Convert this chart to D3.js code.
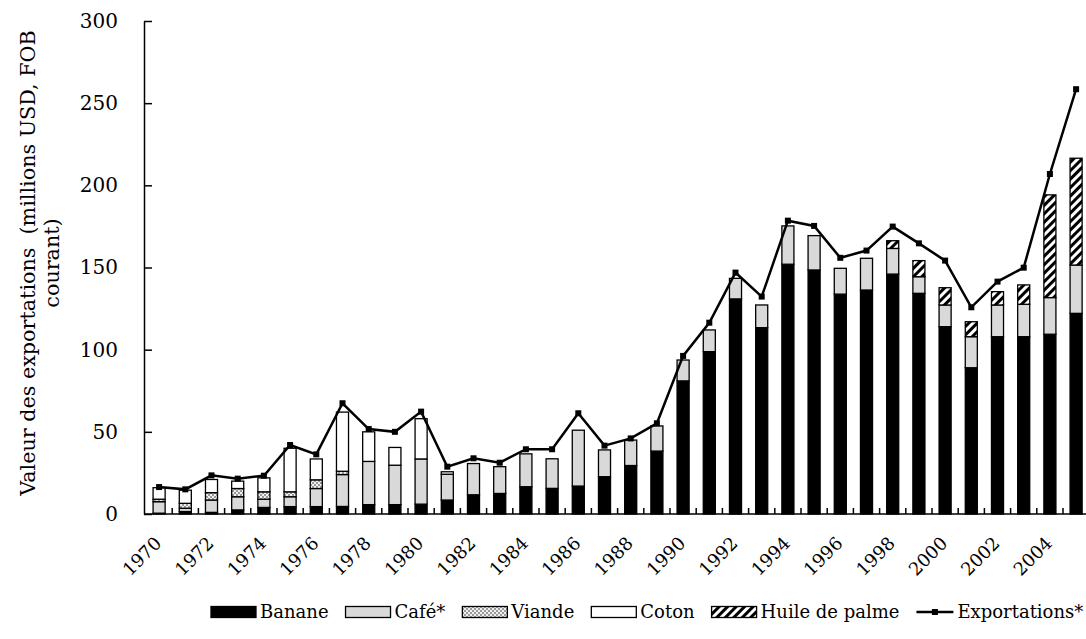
<!DOCTYPE html>
<html><head><meta charset="utf-8">
<script src="https://cdn.jsdelivr.net/npm/d3@7"></script>
<style>body{margin:0;background:#fff}</style>
</head><body>
<svg id="c" width="1086" height="639"></svg>
<script>
const years = [1970,1971,1972,1973,1974,1975,1976,1977,1978,1979,1980,1981,1982,1983,1984,1985,1986,1987,1988,1989,1990,1991,1992,1993,1994,1995,1996,1997,1998,1999,2000,2001,2002,2003,2004,2005];
const banane = [0.5,1.5,1,2.5,4,4.5,4.5,4.6,5.7,5.7,6,8.5,11.7,12.5,16.6,15.6,17,22.7,29.5,38.3,81,98.8,130.9,113.4,152,148.5,133.8,136.3,146,134.3,114,89,107.9,107.9,109.4,122.1];
const cafe = [7,2,7.5,8,5,6,11,19.4,26.3,24,27.5,15.7,19,16.3,20,18,34,16.3,15.5,15.3,12.7,13.2,12.5,13.8,23.3,20.9,15.7,19.3,15.6,10.1,13.2,18.9,19.3,19.7,22.3,29.4];
const viande = [1.5,3,4.5,5,4.5,3,5.3,2,0,0,0,0,0,0,0,0,0,0,0,0,0,0,0,0,0,0,0,0,0,0,0,0,0,0,0,0];
const coton = [7,8,8,4.5,8.5,26.5,12.7,36,18,10.8,24.5,1.5,0,0,0,0,0,0,0,0,0,0,0,0,0,0,0,0,0,0,0,0,0,0,0,0];
const huile = [0,0,0,0,0,0,0,0,0,0,0,0,0,0,0,0,0,0,0,0,0,0,0,0,0,0,0,0,4.7,9.8,10.5,9.1,8.1,11.8,62.5,65];
const exportations = [16.4,15,23.5,21.5,23.3,42,36.3,67.4,51.7,50,62.3,28.8,33.9,31.2,39.4,39.4,61.3,41.6,46,55.2,96.2,116.4,146.9,132.3,178.5,175.3,155.9,160.3,174.9,164.7,154.2,125.8,141.4,149.9,206.9,258.5];
const yTicks = [0,50,100,150,200,250,300];
const xTickLabels = years.filter((d,i)=>i%2===0);
const seriesNames = ["Banane","Café*","Viande","Coton","Huile de palme"];
const lineName = "Exportations*";

const svg = d3.select('#c');
const defs = svg.append('defs');
const pv = defs.append('pattern').attr('id','pViande').attr('patternUnits','userSpaceOnUse').attr('width',4).attr('height',4);
pv.append('rect').attr('width',4).attr('height',4).attr('fill','#9a9a9a');
pv.append('rect').attr('x',0).attr('y',0).attr('width',2).attr('height',2).attr('fill','#f0f0f0');
pv.append('rect').attr('x',2).attr('y',2).attr('width',2).attr('height',2).attr('fill','#f0f0f0');
const ph = defs.append('pattern').attr('id','pHuile').attr('patternUnits','userSpaceOnUse').attr('width',6).attr('height',6).attr('patternTransform','rotate(45)');
ph.append('rect').attr('width',6).attr('height',6).attr('fill','#fff');
ph.append('rect').attr('width',3).attr('height',6).attr('fill','#000');

const fills = ['#000','#d9d9d9','url(#pViande)','#fff','url(#pHuile)'];
const serif = "'DejaVu Serif', serif";

const x = d3.scaleBand().domain(years).range([146,1089.2]).padding(0);
const y = d3.scaleLinear().domain([0,300]).range([514,21]);
const bw = x.bandwidth()*0.46;

const table = years.map((yr,i)=>({year:yr, b:banane[i], c:cafe[i], v:viande[i], t:coton[i], h:huile[i]}));
const stack = d3.stack().keys(['b','c','v','t','h'])(table);

stack.forEach((s,k)=>{
  svg.append('g').selectAll('rect').data(s.filter(d=>d[1]-d[0]>0)).join('rect')
    .attr('x',d=>x(d.data.year)+x.bandwidth()/2-bw/2)
    .attr('width',bw)
    .attr('y',d=>y(d[1]))
    .attr('height',d=>y(d[0])-y(d[1]))
    .attr('fill',fills[k])
    .attr('stroke','#000').attr('stroke-width',1.3);
});

// axes
const ya = d3.axisLeft(y).tickValues(yTicks).tickSizeInner(-8).tickSizeOuter(0).tickPadding(26);
const gy = svg.append('g').attr('transform','translate(144,0)').call(ya);
gy.select('.domain').attr('stroke','#000').attr('stroke-width',1.5);
gy.selectAll('.tick line').attr('stroke','#000').attr('stroke-width',1.5);
gy.selectAll('text').attr('font-family',serif).attr('font-size',20).attr('fill','#000');

const xa = d3.axisBottom(x).tickValues(xTickLabels).tickSize(0).tickPadding(0);
const gx = svg.append('g').attr('transform','translate(0,514)').call(xa);
gx.select('.domain').remove();
gx.selectAll('text').attr('font-family',serif).attr('font-size',18).attr('fill','#000')
  .attr('text-anchor','end').attr('dy','0.35em').attr('y',0)
  .attr('transform','translate(-1,26) rotate(-45)');
svg.append('line').attr('x1',144).attr('x2',1089).attr('y1',514).attr('y2',514).attr('stroke','#000').attr('stroke-width',1.5);
svg.append('g').selectAll('line').data(years.slice(1)).join('line')
  .attr('x1',d=>x(d)).attr('x2',d=>x(d)).attr('y1',514).attr('y2',508)
  .attr('stroke','#000').attr('stroke-width',1.5);

// line
const cx = d=>x(d)+x.bandwidth()/2;
svg.append('path').datum(years.map((yr,i)=>[yr,exportations[i]]))
  .attr('d',d3.line().x(d=>cx(d[0])).y(d=>y(d[1])))
  .attr('fill','none').attr('stroke','#000').attr('stroke-width',2.5);
svg.append('g').selectAll('rect').data(years.map((yr,i)=>[yr,exportations[i]])).join('rect')
  .attr('x',d=>cx(d[0])-3).attr('y',d=>y(d[1])-3).attr('width',6).attr('height',6).attr('fill','#000');

// y label
const yl = svg.append('text').attr('transform','translate(28,263) rotate(-90)')
  .attr('font-family',serif).attr('font-size',20.7).attr('text-anchor','middle').attr('fill','#000');
yl.append('tspan').attr('x',0).attr('y',7).text('Valeur des exportations  (millions USD, FOB').attr('xml:space','preserve');
yl.append('tspan').attr('x',0).attr('y',31).text('courant)');

// legend
const lg = svg.append('g').attr('font-family',serif).attr('font-size',18);
let lx = 211; const ly = 612;
seriesNames.forEach((n,k)=>{
  lg.append('rect').attr('x',lx).attr('y',ly-5.5).attr('width',45).attr('height',11)
    .attr('fill',fills[k]).attr('stroke','#000').attr('stroke-width',1.3);
  const t = lg.append('text').attr('x',lx+49).attr('y',ly).attr('dy','0.35em').text(n);
  lx += 49 + t.node().getComputedTextLength() + 17;
});
lg.append('line').attr('x1',lx).attr('x2',lx+37).attr('y1',ly).attr('y2',ly).attr('stroke','#000').attr('stroke-width',2.5);
lg.append('rect').attr('x',lx+15.5).attr('y',ly-3).attr('width',6).attr('height',6).attr('fill','#000');
lg.append('text').attr('x',lx+41).attr('y',ly).attr('dy','0.35em').text(lineName);
</script>
</body></html>
